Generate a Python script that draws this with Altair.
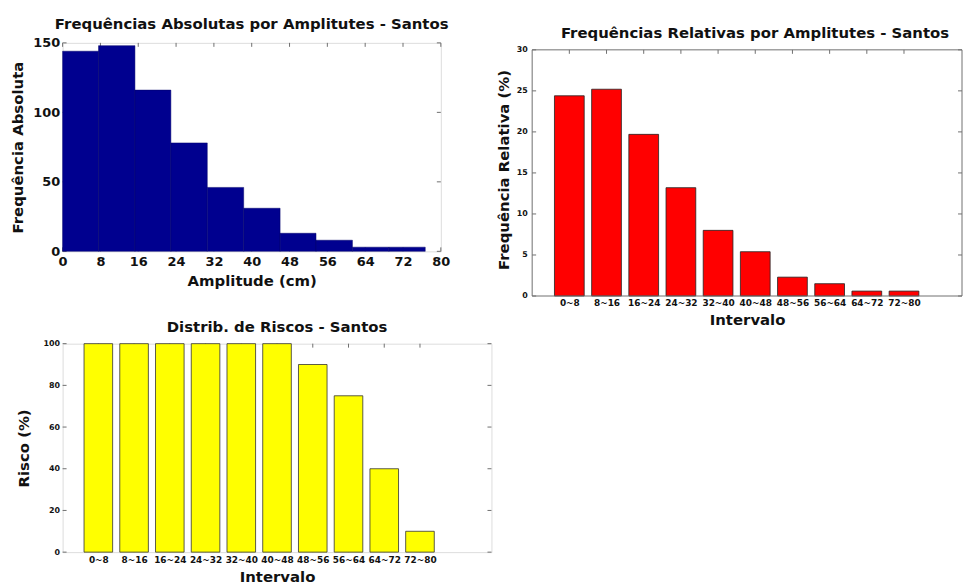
import altair as alt
import pandas as pd

# ---------------- data ----------------
bin_edges = [0, 7.6, 15.3, 22.9, 30.6, 38.3, 46.0, 53.6, 61.3, 69.0, 76.7]
abs_counts = [144, 148, 116, 78, 46, 31, 13, 8, 3, 3]

intervals = ["0~8", "8~16", "16~24", "24~32", "32~40",
             "40~48", "48~56", "56~64", "64~72", "72~80"]
rel_pct = [24.4, 25.2, 19.7, 13.2, 8.0, 5.4, 2.3, 1.5, 0.6, 0.6]
risk_pct = [100, 100, 100, 100, 100, 100, 90, 75, 40, 10]

amp_ticks = [0, 8, 16, 24, 32, 40, 48, 56, 64, 72, 80]
abs_ticks = [0, 50, 100, 150]
rel_ticks = [0, 5, 10, 15, 20, 25, 30]
risk_ticks = [0, 20, 40, 60, 80, 100]
pos_ticks = list(range(1, len(intervals) + 1))

# ---------------- styling ----------------
FONT = "DejaVu Sans"
FRAME = "#6f6f6f"
TICK_LEN = 4

hist_df = pd.DataFrame({"lo": bin_edges[:-1], "hi": bin_edges[1:], "count": abs_counts})
rel_df = pd.DataFrame({"pos": pos_ticks, "label": intervals, "value": rel_pct})
risk_df = pd.DataFrame({"pos": pos_ticks, "label": intervals, "value": risk_pct})

label_expr = "[" + ",".join("'%s'" % s for s in intervals) + "][datum.value - 1]"


def inner_ticks(xvals, yvals, xscale, yscale, xaxis, yaxis, w, h):
    xt = pd.DataFrame({"t": xvals})
    yt = pd.DataFrame({"t": yvals})
    rule = dict(color=FRAME, strokeWidth=1)
    top = alt.Chart(xt).mark_rule(**rule).encode(
        x=alt.X("t:Q", scale=xscale, axis=xaxis), y=alt.value(0), y2=alt.value(TICK_LEN))
    bottom = alt.Chart(xt).mark_rule(**rule).encode(
        x=alt.X("t:Q", scale=xscale, axis=xaxis), y=alt.value(h - TICK_LEN), y2=alt.value(h))
    left = alt.Chart(yt).mark_rule(**rule).encode(
        y=alt.Y("t:Q", scale=yscale, axis=yaxis), x=alt.value(0), x2=alt.value(TICK_LEN))
    right = alt.Chart(yt).mark_rule(**rule).encode(
        y=alt.Y("t:Q", scale=yscale, axis=yaxis), x=alt.value(w - TICK_LEN), x2=alt.value(w))
    return [top, bottom, left, right]


def title(text, offset=6, dx=0, size=15):
    return alt.TitleParams(text, font=FONT, fontSize=size, fontWeight="bold",
                           color="#111", offset=offset, anchor="middle", frame="group", dx=dx)


def axis_x(values, title_txt, label_size, label_expr=None, label_pad=3, title_pad=2):
    kw = dict(values=values, title=title_txt, grid=False, domain=False, ticks=False,
              labelFont=FONT, labelFontWeight="bold", labelFontSize=label_size,
              labelColor="#111", labelPadding=label_pad, labelOverlap=False,
              labelFlush=False,
              titleFont=FONT, titleFontWeight="bold", titleFontSize=15,
              titleColor="#111", titlePadding=title_pad)
    if label_expr:
        kw["labelExpr"] = label_expr
    return alt.Axis(**kw)


def axis_y(values, title_txt, label_size, label_pad=3, title_pad=6):
    return alt.Axis(values=values, title=title_txt, grid=False, domain=False, ticks=False,
                    labelFont=FONT, labelFontWeight="bold", labelFontSize=label_size,
                    labelColor="#111", labelPadding=label_pad, labelOverlap=False,
                    labelFlush=False,
                    titleFont=FONT, titleFontWeight="bold", titleFontSize=15,
                    titleColor="#111", titlePadding=title_pad)


# ---------------- panel 1: absolute histogram ----------------
W1, H1 = 381, 210
xs1 = alt.Scale(domain=[0, 80], nice=False, zero=False)
ys1 = alt.Scale(domain=[0, 150], nice=False)
ax1x = axis_x(amp_ticks, "Amplitude (cm)", 13, label_pad=4, title_pad=5)
ax1y = axis_y(abs_ticks, "Frequência Absoluta", 13, label_pad=3, title_pad=7)
bars1 = alt.Chart(hist_df).mark_rect(color="#00008F", stroke="#00006a", strokeWidth=0.5).encode(
    x=alt.X("lo:Q", scale=xs1, axis=ax1x),
    x2="hi:Q",
    y=alt.Y("count:Q", scale=ys1, axis=ax1y),
    y2=alt.datum(0),
)
p1 = alt.layer(*inner_ticks(amp_ticks, abs_ticks, xs1, ys1, ax1x, ax1y, W1, H1), bars1).properties(
    width=W1, height=H1, title=title("Frequências Absolutas por Amplitutes - Santos", offset=5))

# ---------------- panel 2: relative frequencies ----------------
# this panel's box sits a little lower than panel 1's: its frame is drawn at the
# data limits (0..30) inside a slightly taller plot area
W2, H2 = 433, 255
X2MAX, Y2MAX, Y2TOP = 11.56, 30, 30.85
xs2 = alt.Scale(domain=[0, X2MAX], nice=False, zero=False)
ys2 = alt.Scale(domain=[0, Y2TOP], nice=False, zero=False)
ax2x = axis_x(pos_ticks, "Intervalo", 9, label_expr, label_pad=3, title_pad=5)
ax2y = axis_y(rel_ticks, "Frequência Relativa (%)", 8, label_pad=5, title_pad=5)

frame2 = pd.DataFrame({"x": [0, 0, 0, X2MAX], "x2": [X2MAX, X2MAX, 0, X2MAX],
                       "y": [0, Y2MAX, 0, 0], "y2": [0, Y2MAX, Y2MAX, Y2MAX]})
dx_tick = TICK_LEN / (W2 / X2MAX)
dy_tick = TICK_LEN / (H2 / Y2TOP)
ticks2 = pd.concat([
    pd.DataFrame({"x": pos_ticks, "x2": pos_ticks, "y": [Y2MAX] * 10, "y2": [Y2MAX - dy_tick] * 10}),
    pd.DataFrame({"x": pos_ticks, "x2": pos_ticks, "y": [0] * 10, "y2": [dy_tick] * 10}),
    pd.DataFrame({"x": [0] * 7, "x2": [dx_tick] * 7, "y": rel_ticks, "y2": rel_ticks}),
    pd.DataFrame({"x": [X2MAX] * 7, "x2": [X2MAX - dx_tick] * 7, "y": rel_ticks, "y2": rel_ticks}),
], ignore_index=True)


def rule_layer(df, width):
    return alt.Chart(df).mark_rule(color=FRAME, strokeWidth=width).encode(
        x=alt.X("x:Q", scale=xs2, axis=ax2x), x2="x2:Q",
        y=alt.Y("y:Q", scale=ys2, axis=ax2y), y2="y2:Q")


bars2 = alt.Chart(rel_df).mark_rect(color="#FF0000", stroke="#222", strokeWidth=0.8).transform_calculate(
    lo="datum.pos - 0.4", hi="datum.pos + 0.4").encode(
    x=alt.X("lo:Q", scale=xs2, axis=ax2x),
    x2="hi:Q",
    y=alt.Y("value:Q", scale=ys2, axis=ax2y),
    y2=alt.datum(0),
)
p2 = alt.layer(rule_layer(ticks2, 1), bars2, rule_layer(frame2, 1)).properties(
    width=W2, height=H2,
    view=alt.ViewBackground(strokeOpacity=0),
    title=title("Frequências Relativas por Amplitutes - Santos", offset=2, dx=8))

# ---------------- panel 3: risk distribution ----------------
W3, H3 = 432, 210
xs3 = alt.Scale(domain=[0, 12], nice=False, zero=False)
ys3 = alt.Scale(domain=[0, 100], nice=False)
ax3x = axis_x(pos_ticks, "Intervalo", 9, label_expr, label_pad=3, title_pad=6)
ax3y = axis_y(risk_ticks, "Risco (%)", 8, label_pad=3, title_pad=12)
bars3 = alt.Chart(risk_df).mark_rect(color="#FFFF00", stroke="#333", strokeWidth=0.8).transform_calculate(
    lo="datum.pos - 0.4", hi="datum.pos + 0.4").encode(
    x=alt.X("lo:Q", scale=xs3, axis=ax3x),
    x2="hi:Q",
    y=alt.Y("value:Q", scale=ys3, axis=ax3y),
    y2=alt.datum(0),
)
p3 = alt.layer(*inner_ticks(pos_ticks, risk_ticks, xs3, ys3, ax3x, ax3y, W3, H3), bars3).properties(
    width=W3, height=H3, title=title("Distrib. de Riscos - Santos", offset=5, size=15))

chart = alt.vconcat(
    alt.hconcat(p1, p2, spacing=45),
    p3,
    spacing=-9,
).properties(
    padding={"left": 2, "top": 6, "right": 0, "bottom": 0},
).configure_view(
    stroke=FRAME, strokeWidth=1,
).configure(background="white")

chart.save("out.html", embed_options={"renderer": "svg", "actions": False})
